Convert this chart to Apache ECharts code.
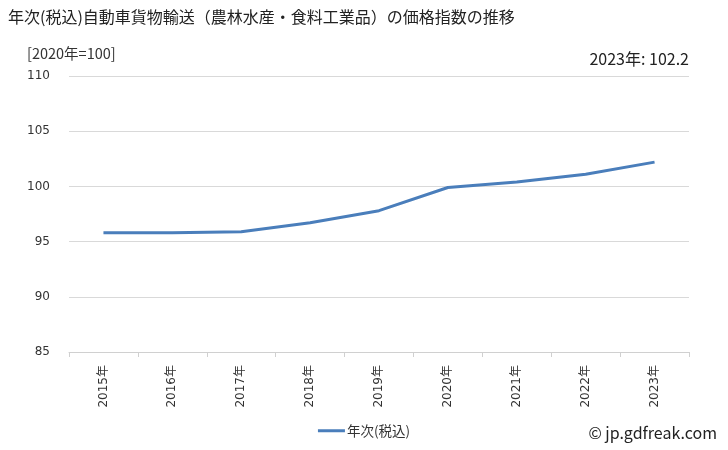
<!DOCTYPE html>
<html><head><meta charset="utf-8">
<script src="https://cdn.jsdelivr.net/npm/echarts@6/dist/echarts.min.js"></script>
<style>html,body{margin:0;padding:0;background:#fff}#c{width:728px;height:450px}</style>
</head><body><div id="c"></div>
<script>
const categories = ['2015年','2016年','2017年','2018年','2019年','2020年','2021年','2022年','2023年'];
const values = [95.8, 95.8, 95.9, 96.7, 97.8, 99.9, 100.4, 101.1, 102.2];
const seriesName = '年次(税込)';
const titleText = '年次(税込)自動車貨物輸送（農林水産・食料工業品）の価格指数の推移';
const unitText = '[2020年=100]';
const latestText = '2023年: 102.2';
const creditText = '© jp.gdfreak.com';
const FONT = '"Noto Sans CJK JP", "Noto Sans", sans-serif';
const AXFONT = '"DejaVu Sans", "Noto Sans CJK JP", sans-serif';

const chart = echarts.init(document.getElementById('c'));
chart.setOption({
  animation: false,
  textStyle: {fontFamily: FONT},
  graphic: [
    {type:'text', left: 8, top: 9, style:{text: titleText, font: '16px ' + FONT, fill:'#222'}},
    {type:'text', left: 27, top: 46, style:{text: unitText, font: '14.5px ' + FONT, fill:'#333'}},
    {type:'text', right: 39, top: 51, style:{text: latestText, font: '16px ' + FONT, fill:'#222'}},
    {type:'text', right: 11, top: 425, style:{text: creditText, font: '16px ' + FONT, fill:'#222'}}
  ],
  legend: {
    top: 419, left: 'center',
    itemWidth: 27, itemHeight: 3, itemGap: 4,
    icon: 'rect',
    textStyle: {fontSize: 13.5, color: '#333', fontFamily: FONT, padding: [0,0,0,-3]},
    data: [seriesName]
  },
  grid: {left: 69, right: 39, top: 76, bottom: 98},
  xAxis: {
    type: 'category', data: categories, boundaryGap: true,
    axisLine: {lineStyle: {color: '#d0d0d0'}},
    axisTick: {show: true, length: 5, lineStyle: {color: '#d0d0d0'}},
    axisLabel: {rotate: 90, fontSize: 12, color: '#333', margin: 13, fontFamily: AXFONT}
  },
  yAxis: {
    type: 'value', min: 85, max: 110, interval: 5,
    axisLine: {show: false}, axisTick: {show: false},
    splitLine: {lineStyle: {color: '#d9d9d9'}},
    axisLabel: {fontSize: 12, color: '#333', margin: 19, fontFamily: AXFONT}
  },
  series: [{
    name: seriesName, type: 'line', data: values,
    showSymbol: false, symbol: 'none',
    lineStyle: {color: '#4a7ebb', width: 3},
    itemStyle: {color: '#4a7ebb'}
  }]
});
</script></body></html>
